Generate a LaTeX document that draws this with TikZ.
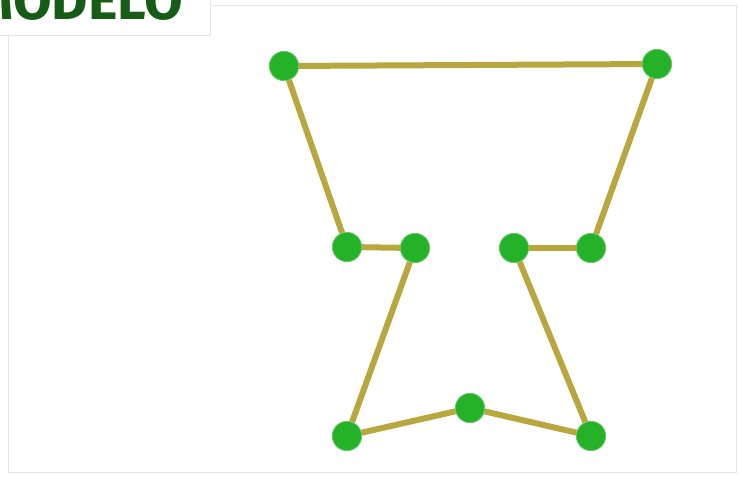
\documentclass[tikz,border=0pt]{standalone}
\usepackage{fontspec}
\setmainfont{Fira Sans}
\definecolor{dotgreen}{RGB}{38,178,40}
\definecolor{stick}{RGB}{184,166,62}
\definecolor{titlegreen}{RGB}{22,92,22}
\tikzset{
  dot/.style={circle,fill=dotgreen,draw=dotgreen!70!white,line width=.6pt,inner sep=0pt,minimum size=22pt},
  stickline/.style={draw=stick,line width=4.5pt},
  frameline/.style={draw=black!10,line width=.5pt}
}
\begin{document}
\begin{tikzpicture}[x=.75pt,y=-.75pt]
\useasboundingbox (0,0) rectangle (739,478);
\clip (0,0) rectangle (739,478);
\draw[frameline] (0,35) -- (210,35) -- (210,0);
\draw[frameline] (210,5) -- (736,5) -- (736,472) -- (8,472) -- (8,35);
\node[anchor=base east,font=\bfseries\fontsize{42}{42}\selectfont,text=titlegreen,inner sep=0pt] (title) at (183,20) {MODELO};
\node[dot] (topl) at (284,66) {};
\node[dot] (topr) at (657,64) {};
\node[dot] (midll) at (347,247) {};
\node[dot] (midlr) at (415,248) {};
\node[dot] (midrl) at (514,248) {};
\node[dot] (midrr) at (591,248) {};
\node[dot] (botl) at (347,436) {};
\node[dot] (botm) at (470,408) {};
\node[dot] (botr) at (591,436) {};
\path[stickline] (topl) -- (topr);
\path[stickline] (topl) -- (midll);
\path[stickline] (midll) -- (midlr);
\path[stickline] (midlr) -- (botl);
\path[stickline] (botl) -- (botm);
\path[stickline] (botm) -- (botr);
\path[stickline] (botr) -- (midrl);
\path[stickline] (midrl) -- (midrr);
\path[stickline] (midrr) -- (topr);
\end{tikzpicture}
\end{document}
